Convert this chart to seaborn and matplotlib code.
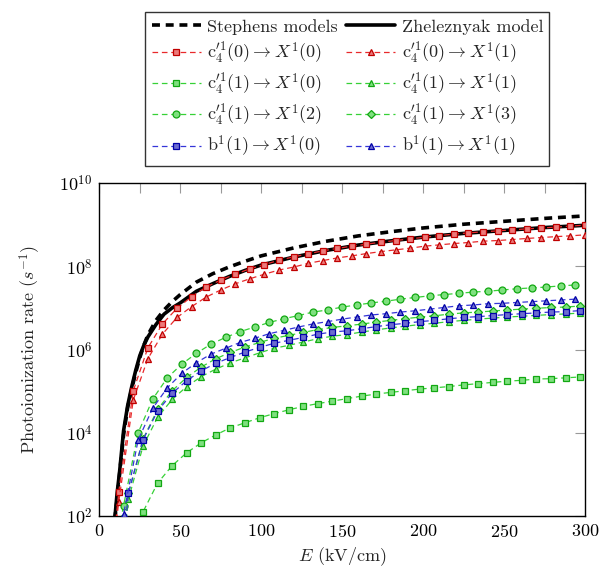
import numpy as np
import pandas as pd
import matplotlib
matplotlib.use("Agg")
import matplotlib.pyplot as plt
import seaborn as sns

sns.set_theme(style="white")
plt.rcParams["font.family"] = ["cmr10", "DejaVu Serif"]
plt.rcParams["mathtext.fontset"] = "cm"
plt.rcParams["axes.formatter.use_mathtext"] = True

# ---------------- data (log10 of photoionization rate) -------------
E_model = [9.5, 11, 12.5, 15, 17.5, 20, 22.5, 25, 27.5, 30, 35, 40, 45, 50, 60, 70, 80, 90,
           100, 120, 140, 160, 180, 200, 225, 250, 275, 300]
zheleznyak_log = [1.9, 2.55, 3.05, 4.05, 4.65, 5.1, 5.5, 5.85, 6.1, 6.3, 6.6, 6.85, 7.0, 7.12,
                  7.40, 7.58, 7.75, 7.90, 8.03, 8.22, 8.38, 8.51, 8.61, 8.70, 8.79, 8.86, 8.93, 8.985]
stephens_log = [1.9, 2.4, 3.0, 3.95, 4.6, 5.05, 5.45, 5.8, 6.1, 6.35, 6.7, 6.95, 7.15, 7.32,
                7.62, 7.82, 7.98, 8.12, 8.25, 8.44, 8.60, 8.73, 8.83, 8.92, 9.01, 9.08, 9.15, 9.21]

E_a = list(range(3, 301, 9))     # 3, 12, ..., 300
E_b = list(range(6, 295, 9))     # 6, 15, ..., 294
E_c = list(range(9, 298, 9))     # 9, 18, ..., 297

c0_X0_log = [-1.0, 2.58, 5.01, 6.04, 6.615, 6.99, 7.27, 7.50, 7.67, 7.81, 7.94, 8.04, 8.146,
             8.226, 8.30, 8.37, 8.43, 8.483, 8.531, 8.579, 8.618, 8.659, 8.698, 8.738, 8.771,
             8.803, 8.827, 8.851, 8.875, 8.899, 8.918, 8.94, 8.965, 8.988]
c0_X1_log = [-0.7, 2.34, 4.79, 5.78, 6.37, 6.77, 7.03, 7.26, 7.43, 7.58, 7.70, 7.81, 7.91,
             7.98, 8.07, 8.137, 8.20, 8.25, 8.305, 8.353, 8.394, 8.435, 8.483, 8.514, 8.546,
             8.57, 8.603, 8.618, 8.642, 8.668, 8.69, 8.712, 8.731, 8.755]
c1_X2_log = [0.5, 2.25, 4.0, 4.81, 5.32, 5.65, 5.91, 6.13, 6.29, 6.43, 6.54, 6.65, 6.74, 6.815,
             6.90, 6.95, 7.02, 7.07, 7.12, 7.16, 7.21, 7.25, 7.29, 7.32, 7.35, 7.38, 7.40, 7.43,
             7.46, 7.48, 7.50, 7.53, 7.55]
b1_X1_log = [0.5, 2.05, 3.83, 4.59, 5.08, 5.43, 5.685, 5.89, 6.03, 6.17, 6.27, 6.38, 6.46, 6.54,
             6.615, 6.67, 6.73, 6.78, 6.83, 6.86, 6.90, 6.93, 6.97, 7.01, 7.05, 7.07, 7.10, 7.11,
             7.13, 7.15, 7.17, 7.19, 7.21]
b1_X0_log = [-1.0, 2.55, 3.83, 4.52, 4.95, 5.25, 5.49, 5.67, 5.81, 5.94, 6.05, 6.15, 6.22, 6.29,
             6.37, 6.42, 6.45, 6.50, 6.55, 6.595, 6.63, 6.67, 6.70, 6.74, 6.77, 6.79, 6.815, 6.84,
             6.86, 6.88, 6.90, 6.91, 6.935]
c1_X1_log = [-1.0, 2.40, 3.68, 4.37, 4.80, 5.11, 5.35, 5.53, 5.68, 5.80, 5.92, 6.03, 6.10, 6.18,
             6.26, 6.32, 6.36, 6.42, 6.47, 6.52, 6.56, 6.60, 6.63, 6.67, 6.70, 6.73, 6.755, 6.78,
             6.80, 6.82, 6.84, 6.855, 6.875]
c1_X3_log = [-1.0, 2.55, 3.85, 4.56, 5.01, 5.33, 5.58, 5.78, 5.93, 6.06, 6.17, 6.27, 6.34, 6.41,
             6.48, 6.53, 6.57, 6.61, 6.66, 6.70, 6.74, 6.78, 6.81, 6.85, 6.88, 6.90, 6.925, 6.95,
             6.97, 6.99, 7.01, 7.02, 7.045]
c1_X0_log = [1.3, 2.10, 2.79, 3.21, 3.52, 3.76, 3.95, 4.12, 4.24, 4.36, 4.46, 4.55, 4.635, 4.70,
             4.76, 4.82, 4.88, 4.93, 4.97, 5.01, 5.05, 5.08, 5.11, 5.15, 5.18, 5.21, 5.24, 5.26,
             5.29, 5.30, 5.32, 5.34]
E_c1_X0 = list(range(18, 298, 9))

x_ticks = [0, 25, 50, 75, 100, 125, 150, 175, 200, 225, 250, 275, 300]
x_tick_labels = ["$0$", "", "$50$", "", "$100$", "", "$150$", "", "$200$", "", "$250$", "", "$300$"]
y_ticks = [1e2, 1e4, 1e6, 1e8, 1e10]
y_tick_labels = ["$10^{2}$", "$10^{4}$", "$10^{6}$", "$10^{8}$", "$10^{10}$"]

RED = dict(line="#e8292b", face="#ec7a7a", edge="#c00000")
GREEN = dict(line="#36d136", face="#7fe07f", edge="#12a812")
BLUE = dict(line="#3535d8", face="#6c6cd0", edge="#0000a8")

series = [
    (E_a, c0_X0_log, RED, "s", r"$\mathrm{c}_4^{\prime 1}(0) \rightarrow X^1(0)$"),
    (E_a, c0_X1_log, RED, "^", r"$\mathrm{c}_4^{\prime 1}(0) \rightarrow X^1(1)$"),
    (E_c1_X0, c1_X0_log, GREEN, "s", r"$\mathrm{c}_4^{\prime 1}(1) \rightarrow X^1(0)$"),
    (E_c, c1_X1_log, GREEN, "^", r"$\mathrm{c}_4^{\prime 1}(1) \rightarrow X^1(1)$"),
    (E_b, c1_X2_log, GREEN, "o", r"$\mathrm{c}_4^{\prime 1}(1) \rightarrow X^1(2)$"),
    (E_c, c1_X3_log, GREEN, "D", r"$\mathrm{c}_4^{\prime 1}(1) \rightarrow X^1(3)$"),
    (E_c, b1_X0_log, BLUE, "s", r"$\mathrm{b}^1(1) \rightarrow X^1(0)$"),
    (E_b, b1_X1_log, BLUE, "^", r"$\mathrm{b}^1(1) \rightarrow X^1(1)$"),
]

fig = plt.figure(figsize=(6, 5.75), dpi=100)
ax = fig.add_axes([0.1655, 0.1026, 0.8095, 0.5791])

df_st = pd.DataFrame({"E": E_model, "rate": np.power(10.0, stephens_log)})
df_zh = pd.DataFrame({"E": E_model, "rate": np.power(10.0, zheleznyak_log)})
sns.lineplot(data=df_st, x="E", y="rate", ax=ax, color="black", lw=2.6,
             linestyle=(0, (2.2, 1.6)), legend=False, label="Stephens models", zorder=3)
sns.lineplot(data=df_zh, x="E", y="rate", ax=ax, color="black", lw=2.6,
             legend=False, label="Zheleznyak model", zorder=3)

ms = {"s": 4.8, "^": 5.0, "o": 5.0, "D": 4.2}
for E, vals, col, mk, lab in series:
    d = pd.DataFrame({"E": E, "rate": np.power(10.0, vals)})
    sns.lineplot(data=d, x="E", y="rate", ax=ax, color=col["line"], lw=0.9,
                 linestyle=(0, (4.5, 3.0)), marker=mk, markersize=ms[mk],
                 markerfacecolor=col["face"], markeredgecolor=col["edge"],
                 markeredgewidth=0.9, legend=False, label=lab, zorder=4)

ax.set_yscale("log")
ax.set_xlim(0, 300)
ax.set_ylim(1e2, 1e10)
ax.set_xticks(x_ticks)
ax.set_xticklabels(x_tick_labels)
ax.set_yticks(y_ticks)
ax.set_yticklabels(y_tick_labels)
ax.yaxis.set_minor_locator(matplotlib.ticker.NullLocator())
ax.tick_params(axis="both", which="major", direction="in", length=7, width=0.8,
               color="#999999", labelsize=13, top=True, right=True,
               labelcolor="black", pad=5)
for s in ax.spines.values():
    s.set_color("black")
    s.set_linewidth(1.0)

ax.set_xlabel(r"$E$ (kV/cm)", fontsize=13, labelpad=4)
ax.set_ylabel(r"Photoionization rate $(s^{-1})$", fontsize=13, labelpad=12)

handles = ax.get_lines()
h_by_label = {h.get_label(): h for h in handles}
order = ["Stephens models", series[0][4], series[2][4], series[4][4], series[6][4],
         "Zheleznyak model", series[1][4], series[3][4], series[5][4], series[7][4]]
leg = fig.legend([h_by_label[k] for k in order], order, loc="upper center",
                 bbox_to_anchor=(0.579, 0.994), ncol=2, frameon=True, fancybox=False,
                 edgecolor="black", fontsize=13, handlelength=2.7, columnspacing=0.5,
                 handletextpad=0.35, labelspacing=0.33, borderpad=0.35)
leg.get_frame().set_linewidth(1.0)

fig.savefig("out.png", dpi=100)
